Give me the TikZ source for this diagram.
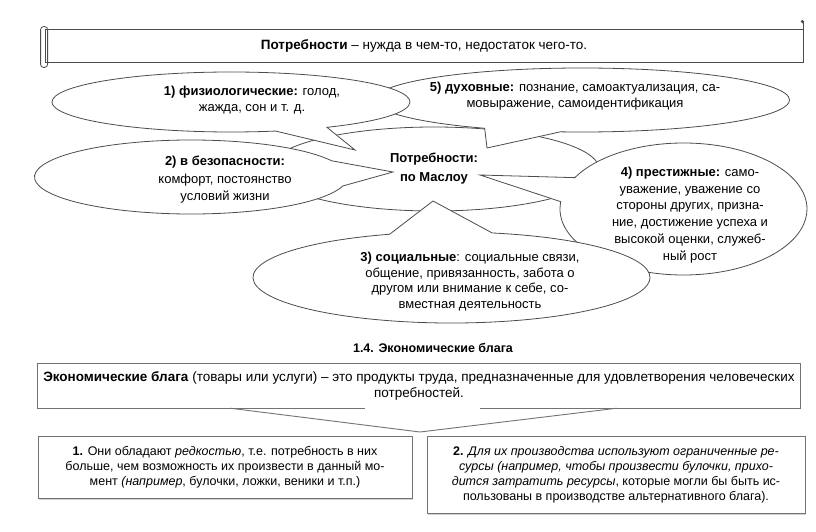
\documentclass[tikz,border=0pt]{standalone}
\usepackage{fontspec}
\setmainfont{Liberation Sans}
\usepackage{tikz}
\usetikzlibrary{shapes.geometric,shapes.callouts,shadows,positioning}

\begin{document}
\begin{tikzpicture}[x=1pt,y=-1pt,
    font=\fontsize{12.5}{15}\selectfont,
    outline/.style={draw=black!70,line width=0.8pt},
    bubble/.style={ellipse callout,outline,fill=white,inner sep=0pt,callout pointer arc=#1},
    bubble/.default=20,
    bubbletext/.style={align=center,inner sep=0pt,font=\fontsize{13}{#1}\selectfont},
    bubbletext/.default=16,
    textbox/.style={outline,draw=black!55,fill=white,inner sep=0pt,align=center,
      drop shadow={shadow xshift=1pt,shadow yshift=-1.5pt,fill=black!35}},
    link/.style={draw=black!55,line width=0.9pt}]
  \useasboundingbox (0,0) rectangle (816,532);
  % Definition banner
  \node[outline,minimum width=758,minimum height=33,inner sep=0pt,font=\fontsize{13.5}{15}\selectfont]
    (needs) at (424,45.5) {\textbf{Потребности} – нужда в чем-то, недостаток чего-то.};
  \draw[outline,rounded corners=3pt] ([xshift=-4pt,yshift=2pt]needs.north west)
    rectangle ([xshift=3pt,yshift=-5pt]needs.south west);
  \draw[outline] (needs.north east) -- ([yshift=7pt]needs.north east);
  \fill[black!70] ([xshift=-1pt,yshift=7pt]needs.north east) circle (1.8pt);
  % Tips of the callouts
  \coordinate (tip1) at (355,150);
  \coordinate (tip2) at (393,172);
  \coordinate (tip3) at (433,201);
  \coordinate (tip4) at (480,175);
  \coordinate (tip5) at (487,148);
  % Maslow ellipse
  \node[ellipse,outline,fill=white,minimum width=330,minimum height=84,inner sep=0pt,align=center,
    font=\fontsize{13}{19}\selectfont] (maslow) at (434,169) {\textbf{Потребности:}\\\textbf{по Маслоу}};
  % Callouts
  \node[bubble=22,minimum width=415,minimum height=64,callout absolute pointer=(tip5)]
    (spirit) at (582,100) {};
  \node[bubbletext] (spiritText) at (575,96)
    {\textbf{5) духовные:} познание, самоактуализация, са-\\мовыражение, самоидентификация};
  \node[bubble=22,minimum width=247,minimum height=132,callout absolute pointer=(tip4)]
    (prestige) at (683.5,209) {};
  \node[bubbletext=16.8] (prestigeText) at (690,215)
    {\textbf{4) престижные:} само-\\уважение, уважение со\\стороны других, призна-\\ние, достижение успеха и\\высокой оценки, служеб-\\ный рост};
  \node[bubble=40,minimum width=313,minimum height=74,callout absolute pointer=(tip2)]
    (safety) at (191,177) {};
  \node[bubbletext=17.5] (safetyText) at (225,180)
    {\textbf{2) в безопасности:}\\комфорт, постоянство\\условий жизни};
  \node[bubble=18,minimum width=358,minimum height=60,callout absolute pointer=(tip1)]
    (physio) at (231,102) {};
  \node[bubbletext] (physioText) at (252,100)
    {\textbf{1) физиологические:} голод,\\жажда, сон и т. д.};
  \node[bubble=30,minimum width=397,minimum height=91,callout absolute pointer=(tip3)]
    (social) at (451.5,277.5) {};
  \node[bubbletext=15.7] (socialText) at (470,281.5)
    {\textbf{3) социальные}: социальные связи,\\общение, привязанность, забота о\\другом или внимание к себе, со-\\вместная деятельность};
  % Economic goods
  \node[font=\fontsize{12.5}{14}\selectfont\bfseries] (goodsTitle) at (433,348) {1.4. Экономические блага};
  \node[minimum width=762,minimum height=44,inner sep=0pt,align=center,font=\fontsize{13.5}{16}\selectfont]
    (goods) at (419,386)
    {\textbf{Экономические блага} (товары или услуги) – это продукты труда, предназначенные для удовлетворения человеческих\\потребностей.};
  \draw[link] ([xshift=-54pt]goods.south) -- (goods.south west) -- (goods.north west)
    -- (goods.north east) -- (goods.south east) -- ([xshift=61pt]goods.south);
  \coordinate (split) at (420,432);
  \draw[link] ([xshift=-189pt]goods.south) -- (split) -- ([xshift=198pt]goods.south);
  \node[textbox,minimum width=374,minimum height=62] (rare) at (225,467)
    {\textbf{1.} Они обладают \textit{редкостью}, т.е. потребность в них\\больше, чем возможность их произвести в данный мо-\\мент \textit{(например}, булочки, ложки, веники и т.п.)};
  \node[textbox,minimum width=378,minimum height=77] (limited) at (616,474.5)
    {\textbf{2.} \textit{Для их производства используют ограниченные ре-}\\\textit{сурсы (например, чтобы произвести булочки, прихо-}\\\textit{дится затратить ресурсы}, которые могли бы быть ис-\\пользованы в производстве альтернативного блага).};
\end{tikzpicture}
\end{document}
